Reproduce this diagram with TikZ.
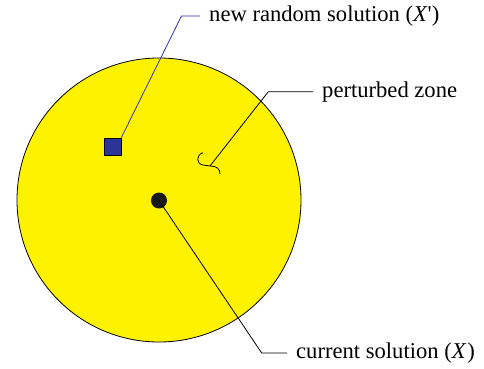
\documentclass[tikz,border=0pt]{standalone}
\usepackage{fontspec}
\setmainfont{Liberation Serif}
\usepackage{tikz}
\usetikzlibrary{positioning, calc}
\definecolor{ZoneYellow}{RGB}{255,242,0}
\definecolor{SolBlue}{RGB}{44,52,150}
\definecolor{LeadBlue}{RGB}{48,48,170}

\begin{document}
\begin{tikzpicture}[x=1pt, y=-1pt,
    zonecirc/.style={circle, draw=black, line width=0.8pt, fill=ZoneYellow,
                     minimum size=284pt, inner sep=0pt},
    newbox/.style={rectangle, draw=black, line width=0.6pt, fill=SolBlue,
                   minimum size=17pt, inner sep=0pt},
    curdot/.style={circle, fill=black!90, minimum size=16pt, inner sep=0pt},
    lbl/.style={anchor=west, inner xsep=9pt, inner ysep=0pt,
                font=\fontsize{22.6}{26}\selectfont},
    lead/.style={line width=0.8pt}
  ]
  \useasboundingbox (0,0) rectangle (484,369);

  % Zone and solutions
  \node[zonecirc] (zone) at (159,200) {};
  \node[newbox] (newsol) at (112.5,146.5) {};
  \node[curdot] (cursol) at (159,200.5) {};

  % Squiggle inside perturbed zone
  \coordinate (sq) at (210,166);
  \draw[lead] (202.7,152.7) .. controls (196,155) and (196,164) .. (203,165)
              .. controls (206,165.5) .. (sq)
              .. controls (217,166) and (220,169) .. (220,174);

  % Labels
  \node[lbl] (newlbl) at (200,16) {new random solution (\textit{X}\textquotesingle)};
  \node[lbl] (zonelbl) at (313,91.7) {perturbed zone};
  \node[lbl] (curlbl) at (287,353) {current solution (\textit{X}\kern1pt)};

  % Leader lines
  \coordinate (newbend) at (181.5,16);
  \coordinate (zonebend) at (268.3,91.7);
  \coordinate (curbend) at (261.7,353);
  \draw[lead, LeadBlue] (newsol.north east) -- (newbend) -- (newlbl.west);
  \draw[lead] (sq) -- (zonebend) -- (zonelbl.west);
  \draw[lead] (cursol.center) -- (curbend) -- (curlbl.west);
\end{tikzpicture}
\end{document}
